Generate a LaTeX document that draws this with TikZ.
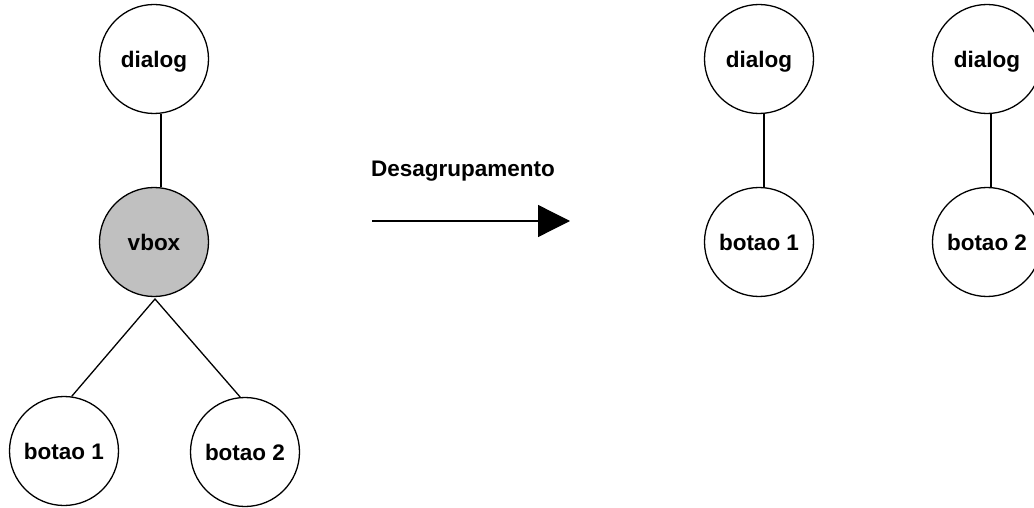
\documentclass[tikz,border=0pt]{standalone}
\usepackage{fontspec}
\setmainfont{Liberation Sans}
\usetikzlibrary{arrows.meta}
\definecolor{vboxgray}{RGB}{192,192,192}
\begin{document}
\begin{tikzpicture}[x=1pt,y=-1pt,
  tnode/.style={circle,draw=black,line width=1.3pt,fill=white,minimum size=109pt,inner sep=0pt,
    text depth=0pt,font=\fontsize{22.5}{26}\selectfont\bfseries},
  conn/.style={line width=1.3pt},
]
\useasboundingbox[fill=white] (0,0) rectangle (1034,508);
% left tree
\node[tnode] (d0) at (154,59) {dialog};
\node[tnode,fill=vboxgray] (vb) at (154,242) {vbox};
\node[tnode] (b1) at (64,451) {botao 1};
\node[tnode] (b2) at (245,452) {botao 2};
\coordinate (apex) at (155,299);
\draw[conn] ([xshift=7pt]d0.south) -- ([xshift=7pt]vb.north);
\draw[conn] (b1.82) -- (apex) -- (b2.95);
% arrow
\coordinate (as) at (372,221);
\coordinate (ae) at (570,221);
\draw[conn,-{Triangle[length=32pt,width=32pt]}] (as) -- (ae);
\node[font=\fontsize{22.5}{26}\selectfont\bfseries] (lbl) at (463,171) {Desagrupamento};
% right trees
\node[tnode] (d1) at (759,59) {dialog};
\node[tnode] (r1) at (759,242) {botao 1};
\draw[conn] ([xshift=5pt]d1.south) -- ([xshift=5pt]r1.north);
\node[tnode] (d2) at (987,59) {dialog};
\node[tnode] (r2) at (987,242) {botao 2};
\draw[conn] ([xshift=4pt]d2.south) -- ([xshift=4pt]r2.north);
\end{tikzpicture}
\end{document}
